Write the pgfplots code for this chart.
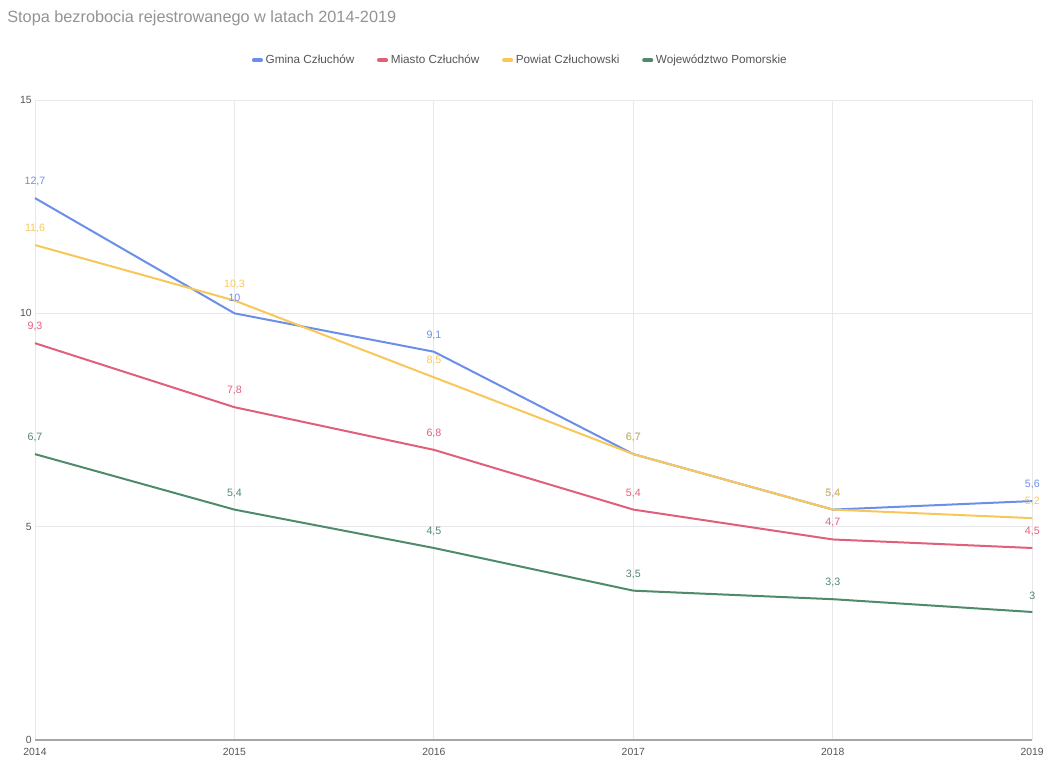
\documentclass[border=0pt]{standalone}
\usepackage{fontspec}
\setmainfont{Liberation Sans}
\usepackage{pgfplots}
\pgfplotsset{compat=1.18}
\definecolor{cblue}{HTML}{6B8FE8}
\definecolor{cred}{HTML}{E0607A}
\definecolor{cyel}{HTML}{F7C75A}
\definecolor{cgreen}{HTML}{4F8A6B}
\definecolor{cgrid}{HTML}{E8E8EC}
\definecolor{ctext}{HTML}{555555}
\begin{document}
\begin{tikzpicture}
\useasboundingbox (0pt,0pt) rectangle (786.75pt,576pt);
\node[anchor=west,text=gray!85,font=\fontsize{12.2}{14}\selectfont] at (2pt,562.5pt) {Stopa bezrobocia rejestrowanego w latach 2014-2019};
\begin{axis}[
  at={(26.25pt,21pt)}, anchor=south west,
  scale only axis, width=748pt, height=480pt,
  xmin=2014, xmax=2019, ymin=0, ymax=15,
  xtick={2014,...,2019}, ytick={0,5,10,15},
  xticklabel style={/pgf/number format/1000 sep={}},
  /pgf/number format/assume math mode=true,
  tick label style={font=\fontsize{7.8}{9}\selectfont, text=ctext},
  yticklabel style={xshift=1pt},
  xticklabel style={yshift=-2.5pt},
  grid=major, major grid style={cgrid, line width=0.6pt},
  axis x line*=bottom, axis y line*=left,
  x axis line style={-, draw=gray!70, line width=0.8pt},
  y axis line style={draw=none},
  major tick length=0pt,
  clip=false,
  nodes near coords,
  every node near coord/.append style={font=\fontsize{8}{9}\selectfont, anchor=south, yshift=5pt,
     /pgf/number format/use comma, /pgf/number format/fixed, /pgf/number format/precision=1},
  legend columns=4,
  legend style={at={(0.487,1.062)}, anchor=center, draw=none, fill=none,
     font=\fontsize{8.8}{10}\selectfont, text=ctext,
     /tikz/every even column/.append style={column sep=15pt}},
  legend image code/.code={\draw[line width=2.8pt, line cap=round] (0pt,0pt) -- (5.5pt,0pt);},
  every axis plot/.append style={line width=1.5pt, mark=none},
]
\addplot[cblue, every node near coord/.append style={text=cblue}] coordinates {(2014,12.7) (2015,10) (2016,9.1) (2017,6.7) (2018,5.4) (2019,5.6)};
\addlegendentry{Gmina Człuchów}
\addplot[cred, every node near coord/.append style={text=cred}] coordinates {(2014,9.3) (2015,7.8) (2016,6.8) (2017,5.4) (2018,4.7) (2019,4.5)};
\addlegendentry{Miasto Człuchów}
\addplot[cyel, every node near coord/.append style={text=cyel}] coordinates {(2014,11.6) (2015,10.3) (2016,8.5) (2017,6.7) (2018,5.4) (2019,5.2)};
\addlegendentry{Powiat Człuchowski}
\addplot[cgreen, every node near coord/.append style={text=cgreen}] coordinates {(2014,6.7) (2015,5.4) (2016,4.5) (2017,3.5) (2018,3.3) (2019,3)};
\addlegendentry{Województwo Pomorskie}
\end{axis}
\end{tikzpicture}
\end{document}
